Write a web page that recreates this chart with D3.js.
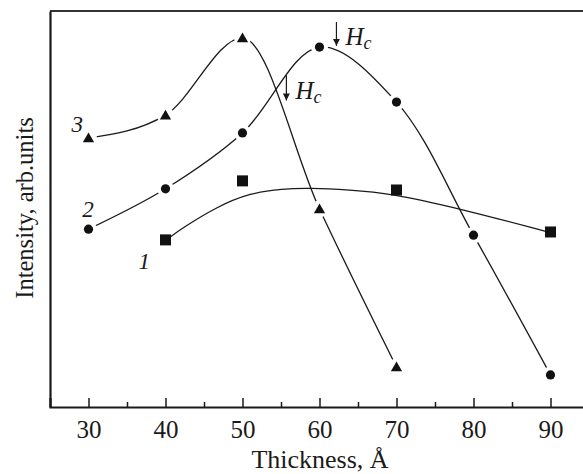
<!DOCTYPE html>
<html>
<head>
<meta charset="utf-8">
<script src="https://cdn.jsdelivr.net/npm/d3@7"></script>
<style>
  body { margin: 0; background: #fff; }
  text { font-family: "Liberation Serif", "Times New Roman", serif; fill: #1a1a1a; }
</style>
</head>
<body>
<div id="chart-area"></div>
<script>
// Thickness (Å) and intensity (arb. units)
var thickness3 = [30, 40, 50, 60, 70];
var intensity3 = [67.9, 73.7, 93.2, 50.0, 10.1];

var thickness2 = [30, 40, 50, 60, 70, 80, 90];
var intensity2 = [44.9, 55.1, 69.2, 90.9, 77.0, 43.4, 8.1];

var thickness1 = [40, 50, 70, 90];
var intensity1 = [42.2, 57.1, 54.8, 44.2];

// smooth trend line drawn through curve 1
var fitX1 = [40.3, 42.2, 46.6, 50.9, 55.2, 58.7, 63.9, 69.1, 78.0, 89.5];
var fitY1 = [42.5, 45.2, 50.5, 54.0, 55.1, 55.3, 54.8, 54.0, 50.2, 44.3];

var xTicks = [30, 40, 50, 60, 70, 80, 90];
var xMinorTicks = [35, 45, 55, 65, 75, 85];

var margin = { left: 50, right: 0, top: 11, bottom: 67 };
var width = 539,
    height = 474 - margin.top - margin.bottom;

var svg = d3.select("#chart-area")
    .append("svg")
        .attr("width", 583)
        .attr("height", 474);
var g = svg.append("g")
    .attr("transform", "translate(" + margin.left + "," + margin.top + ")");

// Scales
var x = d3.scaleLinear()
    .domain([25, 95])
    .range([0, width]);
var y = d3.scaleLinear()
    .domain([0, 100])
    .range([height, 0]);

function zip(xs, ys) {
    return xs.map(function(d, i) { return { x: d, y: ys[i] }; });
}
var series3 = zip(thickness3, intensity3);
var series2 = zip(thickness2, intensity2);
var series1 = zip(thickness1, intensity1);
var fit1 = zip(fitX1, fitY1);

// Frame: top border, left and bottom axes
g.append("line")
    .attr("x1", 0).attr("x2", width)
    .attr("y1", 0).attr("y2", 0)
    .attr("stroke", "#333").attr("stroke-width", 2);

var xAxisCall = d3.axisBottom(x)
    .tickValues(xTicks)
    .tickSize(-9)
    .tickPadding(13)
    .tickFormat(d3.format("d"));
var xAxis = g.append("g")
    .attr("transform", "translate(0," + height + ")")
    .call(xAxisCall);
xAxis.select(".domain").attr("stroke", "#1a1a1a").attr("stroke-width", 2.2);
xAxis.selectAll(".tick line").attr("stroke", "#1a1a1a").attr("stroke-width", 1.5);
xAxis.selectAll(".tick text")
    .attr("font-size", "25px")
    .attr("fill", "#1a1a1a");

var minor = g.append("g")
    .attr("transform", "translate(0," + height + ")")
    .call(d3.axisBottom(x).tickValues(xMinorTicks).tickSize(-5).tickFormat(""));
minor.select(".domain").remove();
minor.selectAll(".tick line").attr("stroke", "#1a1a1a").attr("stroke-width", 1.5);

var yAxis = g.append("g")
    .call(d3.axisLeft(y).tickValues([]).tickSizeOuter(0));
yAxis.select(".domain").attr("stroke", "#1a1a1a").attr("stroke-width", 2.2);

// Axis labels
g.append("text")
    .attr("x", 270)
    .attr("y", height + 61)
    .attr("font-size", "26px")
    .attr("text-anchor", "middle")
    .text("Thickness, Å");
g.append("text")
    .attr("transform", "rotate(-90)")
    .attr("x", -197)
    .attr("y", -17)
    .attr("font-size", "24.5px")
    .attr("text-anchor", "middle")
    .text("Intensity, arb.units");

// Curves
var smooth = d3.line()
    .x(function(d) { return x(d.x); })
    .y(function(d) { return y(d.y); })
    .curve(d3.curveMonotoneX);
var smooth2 = d3.line()
    .x(function(d) { return x(d.x); })
    .y(function(d) { return y(d.y); })
    .curve(d3.curveCatmullRom.alpha(0.5));
var trend = d3.line()
    .x(function(d) { return x(d.x); })
    .y(function(d) { return y(d.y); })
    .curve(d3.curveBasis);

[[series3, smooth], [series2, smooth2], [fit1, trend]]
    .forEach(function(s) {
        g.append("path")
            .datum(s[0])
            .attr("fill", "none")
            .attr("stroke", "#1a1a1a")
            .attr("stroke-width", 1.3)
            .attr("d", s[1]);
    });

// white gaps around circle and triangle markers
g.selectAll("circle.halo")
    .data(series3.concat(series2))
    .enter().append("circle")
    .attr("class", "halo")
    .attr("cx", function(d) { return x(d.x); })
    .attr("cy", function(d) { return y(d.y); })
    .attr("r", 8.5)
    .attr("fill", "#fff");

// Markers
g.selectAll("path.tri")
    .data(series3)
    .enter().append("path")
    .attr("class", "tri")
    .attr("transform", function(d) { return "translate(" + x(d.x) + "," + (y(d.y) + 1) + ")"; })
    .attr("d", d3.symbol().type(d3.symbolTriangle).size(55))
    .attr("fill", "#111");

g.selectAll("circle.dot")
    .data(series2)
    .enter().append("circle")
    .attr("class", "dot")
    .attr("cx", function(d) { return x(d.x); })
    .attr("cy", function(d) { return y(d.y); })
    .attr("r", 4.6)
    .attr("fill", "#111");

g.selectAll("rect.sq")
    .data(series1)
    .enter().append("rect")
    .attr("class", "sq")
    .attr("x", function(d) { return x(d.x) - 5.5; })
    .attr("y", function(d) { return y(d.y) - 5.5; })
    .attr("width", 11)
    .attr("height", 11)
    .attr("fill", "#111");

// Curve numbers
var curveLabels = [
    { t: "3", x: 27.8, y: 69.4 },
    { t: "2", x: 29.2, y: 48.0 },
    { t: "1", x: 36.5, y: 34.8 }
];
g.selectAll("text.num")
    .data(curveLabels)
    .enter().append("text")
    .attr("class", "num")
    .attr("x", function(d) { return x(d.x); })
    .attr("y", function(d) { return y(d.y); })
    .attr("font-size", "23px")
    .attr("font-style", "italic")
    .text(function(d) { return d.t; });

// H_c arrows
svg.append("defs").append("marker")
    .attr("id", "head")
    .attr("viewBox", "0 0 10 10")
    .attr("refX", 10).attr("refY", 5)
    .attr("markerWidth", 7).attr("markerHeight", 7)
    .attr("markerUnits", "userSpaceOnUse")
    .attr("orient", "auto")
  .append("path")
    .attr("d", "M0,0 L10,5 L0,10 z")
    .attr("fill", "#1a1a1a");

var hcMarks = [
    { x: 62.2, y0: 97.2, y1: 91.2 },
    { x: 55.7, y0: 83.8, y1: 77.4 }
];
hcMarks.forEach(function(h) {
    g.append("line")
        .attr("x1", x(h.x)).attr("x2", x(h.x))
        .attr("y1", y(h.y0)).attr("y2", y(h.y1))
        .attr("stroke", "#1a1a1a")
        .attr("stroke-width", 1.2)
        .attr("marker-end", "url(#head)");
    var t = g.append("text")
        .attr("x", x(h.x) + 9)
        .attr("y", y(h.y1) - 1)
        .attr("font-size", "25px")
        .attr("font-style", "italic");
    t.append("tspan").text("H");
    t.append("tspan").attr("font-size", "18px").attr("dy", 4).text("c");
});
</script>
</body>
</html>
